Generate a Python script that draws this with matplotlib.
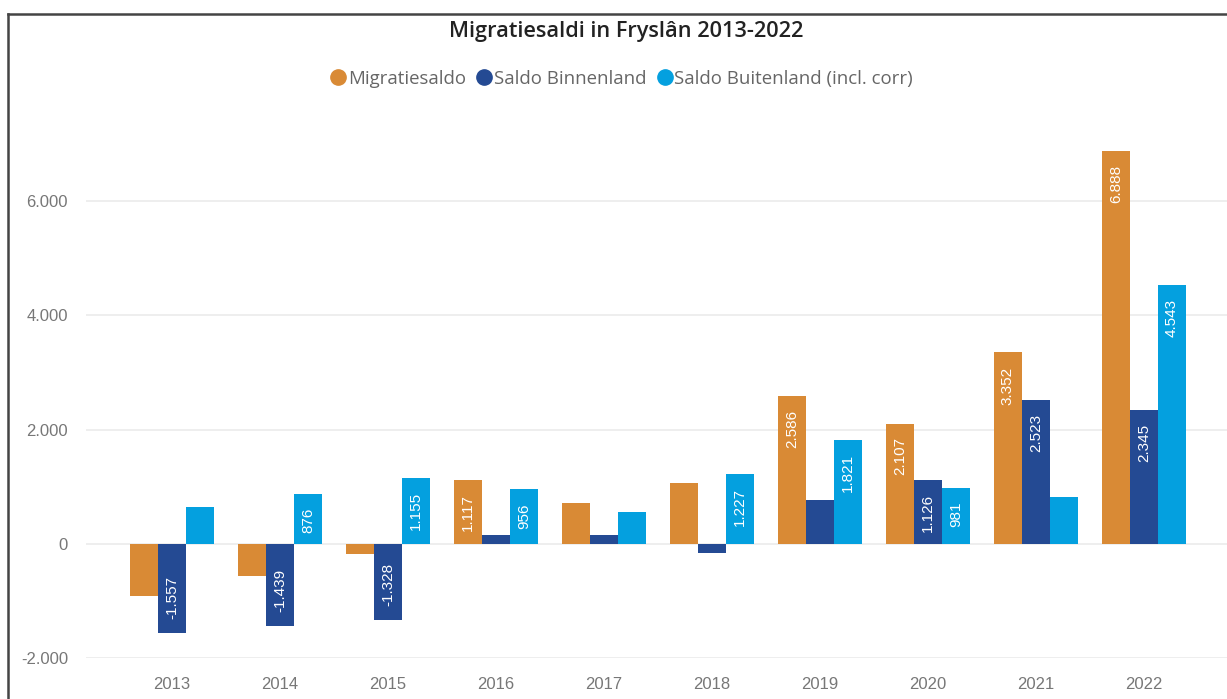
import matplotlib
matplotlib.use("Agg")
import matplotlib.pyplot as plt
from matplotlib.lines import Line2D
import numpy as np

years = ["2013", "2014", "2015", "2016", "2017", "2018", "2019", "2020", "2021", "2022"]
series_names = ["Migratiesaldo", "Saldo Binnenland", "Saldo Buitenland (incl. corr)"]
migratiesaldo = [-909, -563, -173, 1117, 718, 1068, 2586, 2107, 3352, 6888]
saldo_binnenland = [-1557, -1439, -1328, 161, 158, -159, 765, 1126, 2523, 2345]
saldo_buitenland = [648, 876, 1155, 956, 560, 1227, 1821, 981, 829, 4543]
# which bars carry a data label in the reference
label_migratie = [0, 0, 0, 1, 0, 0, 1, 1, 1, 1]
label_binnen = [1, 1, 1, 0, 0, 0, 0, 1, 1, 1]
label_buiten = [0, 1, 1, 1, 0, 1, 1, 1, 0, 1]
yticks = [-2000, 0, 2000, 4000, 6000]

colors = ["#D98A35", "#244A93", "#04A0DF"]

fig = plt.figure(figsize=(12.27, 6.99), dpi=100)
ax = fig.add_axes([86 / 1227, (699 - 658) / 699, 1 - 86 / 1227, (658 - 110) / 699])

x = np.arange(len(years))
w = 0.26
all_series = [migratiesaldo, saldo_binnenland, saldo_buitenland]
all_labels = [label_migratie, label_binnen, label_buiten]
for i, (vals, labs, col) in enumerate(zip(all_series, all_labels, colors)):
    xs = x + (i - 1) * w
    ax.bar(xs, vals, width=w, color=col, edgecolor="none", zorder=3)
    for xi, v, show in zip(xs, vals, labs):
        if show:
            txt = f"{v:,}".replace(",", ".")
            if v >= 0:
                ax.annotate(txt, (xi, v), xytext=(0, -10), textcoords="offset points",
                            rotation=90, ha="center", va="top", color="white",
                            fontsize=11, family="Liberation Sans", zorder=4)
            else:
                ax.annotate(txt, (xi, v), xytext=(0, 10), textcoords="offset points",
                            rotation=90, ha="center", va="bottom", color="white",
                            fontsize=11, family="Liberation Sans", zorder=4)

ax.set_xlim(-0.796, 9.77)
ax.set_ylim(-2000, 7600)
ax.set_yticks(yticks)
ax.set_yticklabels([f"{t:,}".replace(",", ".") for t in yticks],
                   family="Liberation Sans", fontsize=12, color="#777777")
ax.set_xticks(x)
ax.set_xticklabels(years, family="Liberation Sans", fontsize=12, color="#777777")
ax.tick_params(axis="both", length=0)
ax.tick_params(axis="y", pad=13)
ax.tick_params(axis="x", pad=14)
ax.grid(axis="y", color="#EBEBEB", linewidth=1.2, zorder=0)
for s in ax.spines.values():
    s.set_visible(False)

fig.text(0.510, 1 - 32 / 699, "Migratiesaldi in Fryslân 2013-2022", ha="center", va="center",
         fontsize=15.7, family="Open Sans", fontweight="semibold", color="#222222")

handles = [Line2D([], [], marker="o", linestyle="none", markersize=11,
                  markerfacecolor=c, markeredgecolor=c) for c in colors]
leg = fig.legend(handles, series_names, loc="center", bbox_to_anchor=(0.506, 1 - 79 / 699),
                 ncol=3, frameon=False, handletextpad=0.0, columnspacing=0.5,
                 prop={"family": "Open Sans", "size": 13.4}, handlelength=1.0)
for t in leg.get_texts():
    t.set_color("#666666")

fig.add_artist(Line2D([8 / 1227, 8 / 1227], [0, 1 - 14 / 699], color="#444444", linewidth=1.8))
fig.add_artist(Line2D([8 / 1227, 1], [1 - 14 / 699, 1 - 14 / 699], color="#444444", linewidth=1.8))

fig.savefig("out.png", dpi=100, facecolor="white")
